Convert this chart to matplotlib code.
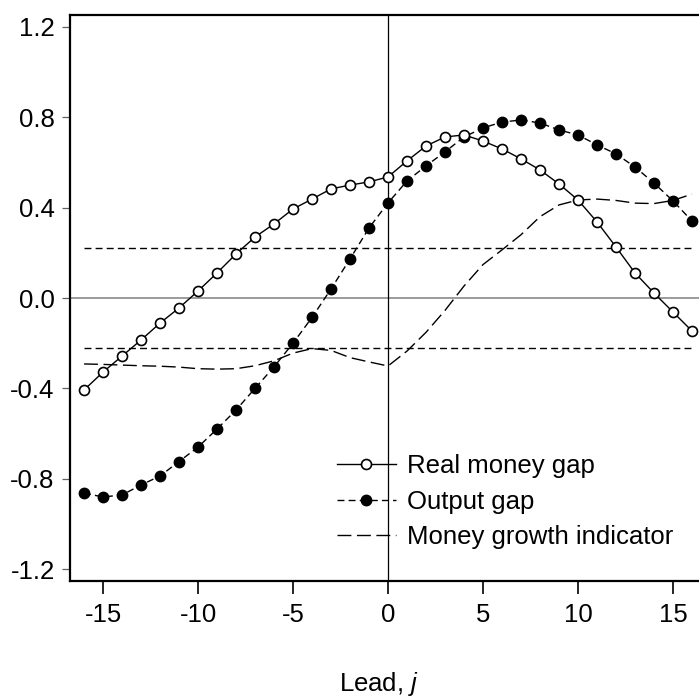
import numpy as np
import matplotlib
matplotlib.use("Agg")
import matplotlib.pyplot as plt

plt.rcParams['font.family'] = ['Liberation Sans', 'DejaVu Sans']
plt.rcParams['mathtext.fontset'] = 'custom'
plt.rcParams['mathtext.it'] = 'Liberation Sans:italic'
plt.rcParams['mathtext.rm'] = 'Liberation Sans'
plt.rcParams['axes.unicode_minus'] = False

# leads j = -16 .. 16
lead = np.arange(-16, 17)

real_money_gap = [-0.407, -0.328, -0.257, -0.186, -0.111, -0.044, 0.031, 0.111,
                  0.195, 0.270, 0.328, 0.394, 0.438, 0.483, 0.500, 0.514,
                  0.536, 0.607, 0.673, 0.713, 0.722, 0.695, 0.660, 0.616,
                  0.567, 0.505, 0.434, 0.337, 0.226, 0.111, 0.022, -0.062,
                  -0.146]

output_gap = [-0.864, -0.881, -0.872, -0.828, -0.788, -0.724, -0.660, -0.580,
              -0.496, -0.400, -0.305, -0.200, -0.086, 0.040, 0.173, 0.310,
              0.421, 0.518, 0.585, 0.647, 0.713, 0.753, 0.779, 0.788,
              0.775, 0.744, 0.722, 0.678, 0.638, 0.580, 0.509, 0.430,
              0.341]

money_growth = [-0.292, -0.294, -0.297, -0.300, -0.302, -0.306, -0.313, -0.315,
                -0.313, -0.300, -0.278, -0.244, -0.224, -0.232, -0.264, -0.283,
                -0.301, -0.235, -0.152, -0.055, 0.053, 0.148, 0.213, 0.280,
                0.360, 0.412, 0.434, 0.438, 0.432, 0.420, 0.418, 0.432,
                0.460]

band = 0.22  # significance bounds
xticks = [-15, -10, -5, 0, 5, 10, 15]
yticks = [-1.2, -0.8, -0.4, 0.0, 0.4, 0.8, 1.2]

fig = plt.figure(figsize=(6.99, 7.0), dpi=100)
ax = fig.add_axes([70 / 699, 1 - 581 / 700, 1 - 70 / 699, (581 - 15) / 700])

# reference lines
ax.axhline(0, color='#808080', lw=1.1, zorder=1)
ax.hlines([band, -band], -16, 16, colors='black', lw=1.0, linestyles=(0, (5, 3)), zorder=1)
ax.axvline(0, color='black', lw=0.9, zorder=1)

ax.plot(lead, money_growth, color='black', lw=1.0, dashes=(10, 4),
        label='Money growth indicator', zorder=2)
ax.plot(lead, output_gap, color='black', lw=1.0, dashes=(5, 3), marker='o',
        markersize=7.5, markerfacecolor='black', markeredgecolor='black',
        label='Output gap', zorder=3)
ax.plot(lead, real_money_gap, color='black', lw=1.0, marker='o',
        markersize=7.2, markerfacecolor='white', markeredgecolor='black',
        markeredgewidth=1.2, label='Real money gap', zorder=4)

ax.set_xlim(-16.74, 16.37)
ax.set_ylim(-1.253, 1.253)
ax.set_xticks(xticks)
ax.set_yticks(yticks)
ax.set_yticklabels(['%.1f' % v for v in yticks])

for s in ['left', 'top', 'bottom']:
    ax.spines[s].set_linewidth(1.6)
ax.spines['right'].set_visible(False)

ax.tick_params(axis='x', direction='out', length=9, width=1.2, pad=7,
               labelsize=18.5, colors='black')
ax.tick_params(axis='y', direction='out', length=6, width=0.9, pad=5,
               labelsize=18.5, color='#606060', labelcolor='black')

h, l = ax.get_legend_handles_labels()
order = [2, 1, 0]
ax.legend([h[i] for i in order], [l[i] for i in order], frameon=False,
          fontsize=18.5, loc='lower left', bbox_to_anchor=(0.424, 0.056),
          handlelength=2.3, handletextpad=0.45, labelspacing=0.45,
          borderpad=0, borderaxespad=0)

fig.text(379 / 699, 1 - 684 / 700, 'Lead, $j$', fontsize=18.5,
         ha='center', va='center')

fig.savefig('out.png', dpi=100)
